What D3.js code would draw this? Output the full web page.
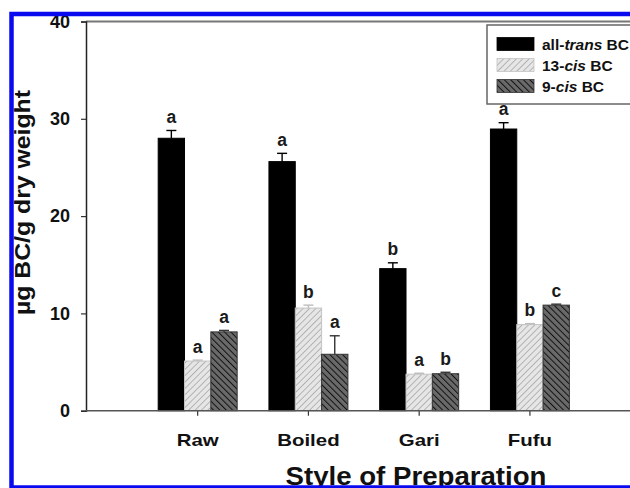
<!DOCTYPE html>
<html>
<head>
<meta charset="utf-8">
<script src="https://cdn.jsdelivr.net/npm/d3@7"></script>
<style>
  html, body { margin: 0; padding: 0; background: #fff; }
  svg { display: block; font-family: "Liberation Sans", Arial, sans-serif; }
</style>
</head>
<body>
<svg id="chart" width="630" height="488"></svg>
<script>
// Beta-carotene isomers by style of preparation
const categories = ["Raw", "Boiled", "Gari", "Fufu"];
const series = ["all-trans BC", "13-cis BC", "9-cis BC"];
const allTrans = [28.0, 25.6, 14.6, 28.95];
const cis13 = [5.1, 10.55, 3.75, 8.85];
const cis9 = [8.1, 5.8, 3.8, 10.85];
const errAllTrans = [0.8, 0.85, 0.6, 0.65];
const errCis13 = [0.1, 0.3, 0.1, 0.1];
const errCis9 = [0.15, 1.9, 0.15, 0.1];
const lettersAllTrans = ["a", "a", "b", "a"];
const lettersCis13 = ["a", "b", "a", "b"];
const lettersCis9 = ["a", "a", "b", "c"];
const yTicks = [0, 10, 20, 30, 40];

const values = [allTrans, cis13, cis9];
const errors = [errAllTrans, errCis13, errCis9];
const letters = [lettersAllTrans, lettersCis13, lettersCis9];

const rows = [];
categories.forEach((c, i) => {
  series.forEach((s, j) => {
    rows.push({ cat: c, ser: s, v: values[j][i], e: errors[j][i], l: letters[j][i] });
  });
});

const svg = d3.select("#chart");
const defs = svg.append("defs");

// hatch fills
const p13 = defs.append("pattern").attr("id", "hatch13").attr("patternUnits", "userSpaceOnUse")
  .attr("width", 4.5).attr("height", 4.5).attr("patternTransform", "rotate(45)");
p13.append("rect").attr("width", 4.5).attr("height", 4.5).attr("fill", "#e6e6e6");
p13.append("line").attr("x1", 0).attr("y1", 0).attr("x2", 0).attr("y2", 4.5)
  .attr("stroke", "#a8a8a8").attr("stroke-width", 1.6);

const p9 = defs.append("pattern").attr("id", "hatch9").attr("patternUnits", "userSpaceOnUse")
  .attr("width", 4.5).attr("height", 4.5).attr("patternTransform", "rotate(-45)");
p9.append("rect").attr("width", 4.5).attr("height", 4.5).attr("fill", "#6a6a6a");
p9.append("line").attr("x1", 0).attr("y1", 0).attr("x2", 0).attr("y2", 4.5)
  .attr("stroke", "#111").attr("stroke-width", 2);

const fills = { "all-trans BC": "#000", "13-cis BC": "url(#hatch13)", "9-cis BC": "url(#hatch9)" };
const strokes = { "all-trans BC": "#000", "13-cis BC": "#c4c4c4", "9-cis BC": "#333" };
const errColor = { "all-trans BC": "#000", "13-cis BC": "#bdbdbd", "9-cis BC": "#333" };

const axisX = 86, plotTop = 21.5, plotBottom = 410.7;

const y = d3.scaleLinear().domain([0, 40]).range([plotBottom, plotTop]);
const x0 = d3.scaleBand().domain(categories).range([142.3, 585.3])
  .paddingInner(0.287).paddingOuter(0.1435);
const x1 = d3.scaleBand().domain(series).range([0, x0.bandwidth()]);

// top frame line
svg.append("line").attr("x1", axisX).attr("x2", 632).attr("y1", plotTop).attr("y2", plotTop)
  .attr("stroke", "#777").attr("stroke-width", 2);

// bars
const g = svg.append("g");
g.selectAll("rect.bar").data(rows).join("rect").attr("class", "bar")
  .attr("x", d => x0(d.cat) + x1(d.ser))
  .attr("y", d => y(d.v))
  .attr("width", x1.bandwidth())
  .attr("height", d => y(0) - y(d.v))
  .attr("fill", d => fills[d.ser])
  .attr("stroke", d => strokes[d.ser])
  .attr("stroke-width", 1);

// error bars (upper)
const cx = d => x0(d.cat) + x1(d.ser) + x1.bandwidth() / 2;
const eb = g.selectAll("g.err").data(rows).join("g").attr("class", "err")
  .attr("stroke", d => errColor[d.ser]).attr("stroke-width", 1.4);
eb.append("line")
  .attr("x1", cx).attr("x2", cx)
  .attr("y1", d => y(d.v)).attr("y2", d => y(d.v + d.e));
eb.append("line")
  .attr("x1", d => cx(d) - 5).attr("x2", d => cx(d) + 5)
  .attr("y1", d => y(d.v + d.e)).attr("y2", d => y(d.v + d.e));

// significance letters
g.selectAll("text.sig").data(rows).join("text").attr("class", "sig")
  .attr("x", cx)
  .attr("y", d => y(d.v + d.e) - 7.5)
  .attr("text-anchor", "middle")
  .attr("font-weight", "bold").attr("font-size", 17.5).attr("fill", "#1a1a1a")
  .text(d => d.l);

// y axis
const yAxis = svg.append("g").attr("transform", `translate(${axisX},0)`)
  .call(d3.axisLeft(y).tickValues(yTicks).tickSize(5).tickPadding(11));
yAxis.select(".domain").attr("stroke", "#222").attr("stroke-width", 1.5);
yAxis.selectAll(".tick line").attr("stroke", "#333").attr("stroke-width", 1.2);
yAxis.selectAll(".tick text").attr("font-size", 18).attr("font-weight", "bold")
  .attr("fill", "#111").attr("font-family", "Liberation Sans, Arial, sans-serif");

// x axis
const xAxis = svg.append("g").attr("transform", `translate(0,${plotBottom})`)
  .call(d3.axisBottom(x0).tickSize(5).tickSizeOuter(0).tickPadding(18));
xAxis.select(".domain").remove();
xAxis.append("line").attr("x1", axisX).attr("x2", 632).attr("y1", 0).attr("y2", 0)
  .attr("stroke", "#555").attr("stroke-width", 1.5);
xAxis.selectAll(".tick line").attr("stroke", "#333").attr("stroke-width", 1.2);
// category labels are set in a wide bold face
xAxis.selectAll(".tick text").attr("font-size", 17).attr("font-weight", "bold")
  .attr("fill", "#111").attr("font-family", "Liberation Sans, Arial, sans-serif")
  .each(function() {
    const w = this.getComputedTextLength();
    d3.select(this).attr("textLength", w * 1.2).attr("lengthAdjust", "spacingAndGlyphs");
  });

// axis titles
svg.append("text").attr("x", 416).attr("y", 484.5).attr("text-anchor", "middle")
  .attr("font-size", 26).attr("font-weight", "bold").attr("fill", "#111")
  .attr("textLength", 261).attr("lengthAdjust", "spacingAndGlyphs")
  .text("Style of Preparation");
svg.append("text").attr("transform", "translate(30,202.5) rotate(-90)").attr("text-anchor", "middle")
  .attr("font-size", 21.5).attr("font-weight", "bold").attr("fill", "#111")
  .attr("textLength", 225).attr("lengthAdjust", "spacingAndGlyphs")
  .text("µg BC/g dry weight");

// legend
const lg = svg.append("g");
lg.append("rect").attr("x", 487).attr("y", 25).attr("width", 160).attr("height", 79)
  .attr("fill", "#fff").attr("stroke", "#666").attr("stroke-width", 1.5);
const lrows = lg.selectAll("g.item").data(series).join("g").attr("class", "item")
  .attr("transform", (d, i) => `translate(497,${37.5 + i * 21})`);
lrows.append("rect").attr("width", 37).attr("height", 13)
  .attr("fill", d => fills[d]).attr("stroke", d => strokes[d]).attr("stroke-width", 0.8);
const lt = lrows.append("text").attr("x", 45).attr("y", 12.5)
  .attr("font-size", 15.5).attr("font-weight", "bold").attr("fill", "#111");
lt.each(function(d) {
  const t = d3.select(this);
  const parts = d.split(" ")[0].split("-");
  t.append("tspan").text(parts[0] + "-");
  t.append("tspan").attr("font-style", "italic").text(parts[1]);
  t.append("tspan").text(" BC");
});

// blue outer frame
svg.append("rect").attr("x", 11.5).attr("y", 14).attr("width", 640).attr("height", 473.5)
  .attr("fill", "none").attr("stroke", "#0a0af0").attr("stroke-width", 4.5);
</script>
</body>
</html>
